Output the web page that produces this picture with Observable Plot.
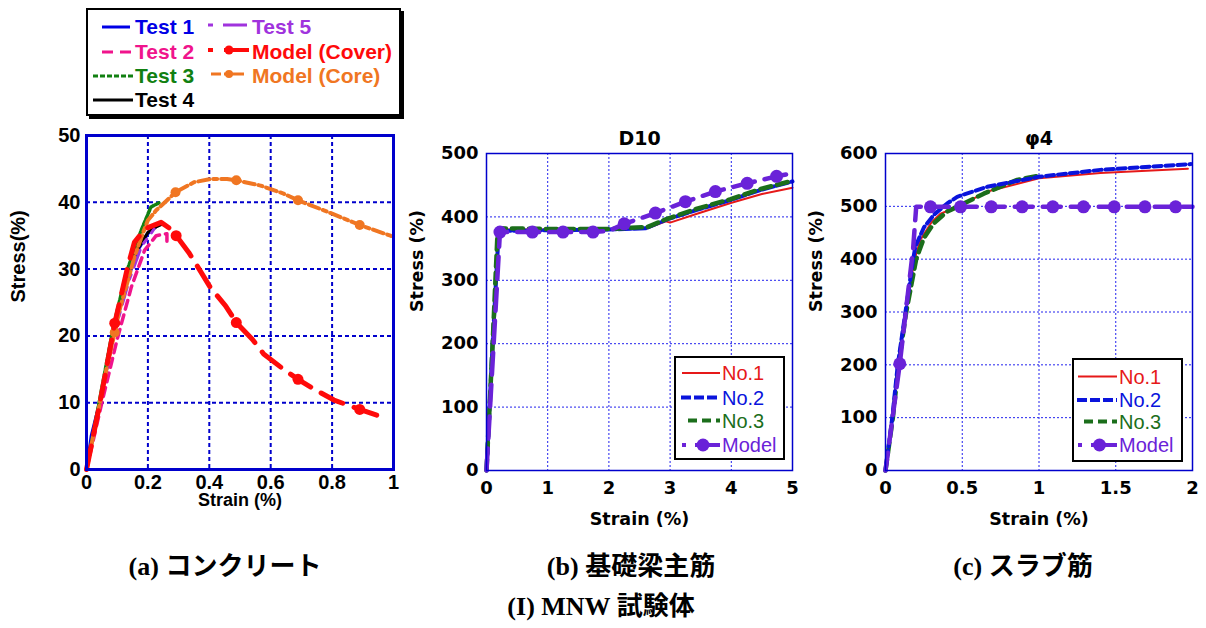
<!DOCTYPE html>
<html><head><meta charset="utf-8">
<script src="https://cdn.jsdelivr.net/npm/d3@7"></script>
<script src="https://cdn.jsdelivr.net/npm/@observablehq/plot@0.6"></script>
<style>
body{margin:0;background:#fff;}
#root{position:relative;width:1206px;height:628px;overflow:hidden;background:#fff;}
.lbl{position:absolute;white-space:nowrap;line-height:1;transform:translateY(-50%);}
.cap{position:absolute;white-space:nowrap;line-height:1;transform:translate(-50%,-50%);font-family:"Liberation Serif","Noto Sans CJK JP",serif;font-weight:bold;font-size:26px;color:#000;}
</style></head><body><div id="root"></div>
<script>
// ---------- Data: panel (a) concrete ----------
const ticksAx = [0, 0.2, 0.4, 0.6, 0.8, 1];
const ticksAy = [0, 10, 20, 30, 40, 50];
const test1 = [[0,0],[0.015,5],[0.045,10.5],[0.09,20.5],[0.13,28],[0.17,33],[0.2,35.3],[0.23,36.5]];
const test2 = [[0,0],[0.02,4],[0.05,10],[0.1,19.5],[0.146,27.3],[0.189,32.8],[0.227,35],[0.262,35.3],[0.262,34]];
const test3 = [[0,0],[0.045,11],[0.088,21.5],[0.13,29.5],[0.178,35.8],[0.21,39.3],[0.24,40]];
const test4 = [[0,0],[0.045,10.5],[0.09,20.5],[0.118,26.8],[0.16,32.5],[0.2,35.5],[0.227,36.3],[0.25,36.8]];
const test5 = [[0,0],[0.045,10.3],[0.09,20.3],[0.14,28.5],[0.18,33.5],[0.205,35],[0.22,36]];
const modelCover = [[0,0],[0.046,10.5],[0.092,21.9],[0.134,30.3],[0.156,34],[0.178,35.3],[0.2,36.2],[0.243,37],[0.28,35.8],[0.292,35],[0.333,32.5],[0.371,29.7],[0.404,27.2],[0.453,24.5],[0.488,22],[0.54,19.5],[0.577,17.3],[0.642,15],[0.689,13.5],[0.75,11.8],[0.806,10.4],[0.89,9],[0.979,7.6]];
const modelCoverMarks = [[0.092,21.9],[0.292,35],[0.488,22],[0.689,13.5],[0.89,9]];
const modelCore = [[0,0],[0.035,8],[0.067,15.5],[0.092,20.5],[0.107,23.8],[0.135,28.3],[0.156,31.8],[0.183,35.3],[0.2,37.3],[0.227,38.8],[0.26,40.2],[0.29,41.5],[0.35,43],[0.404,43.5],[0.458,43.5],[0.488,43.3],[0.567,42.5],[0.642,41.3],[0.689,40.3],[0.773,38.8],[0.89,36.6],[0.99,35],[1.0,34.8]];
const modelCoreMarks = [[0.092,20.5],[0.29,41.5],[0.488,43.3],[0.689,40.3],[0.89,36.6]];

// ---------- Data: panel (b) D10 ----------
const ticksBx = [0, 1, 2, 3, 4, 5];
const ticksBy = [0, 100, 200, 300, 400, 500];
const d10No1 = [[0,0],[0.1,200],[0.2,375],[0.25,380],[1,380],[2,381],[2.63,382],[2.93,393],[3.0,391],[3.44,405],[3.99,422],[4.5,436],[5,446]];
const d10No2 = [[0,0],[0.1,200],[0.2,378],[1,379],[2,380],[2.6,382],[2.95,396],[3.44,411],[4,427],[4.5,443],[5,456]];
const d10No3 = [[0,0],[0.1,200],[0.18,375],[0.22,382],[1,381],[2,381],[2.63,384],[2.95,397],[3.44,413],[3.99,428],[4.48,444],[5,457]];
const d10Model = [[0,0],[0.22,376],[0.75,376],[1.25,376],[1.74,376],[2.0,378],[2.25,389],[2.76,406],[3.25,424],[3.74,440],[4.26,453],[4.74,464],[5,469]];
const d10ModelMarks = [[0.22,376],[0.75,376],[1.25,376],[1.74,376],[2.25,389],[2.76,406],[3.25,424],[3.74,440],[4.26,453],[4.74,464]];

// ---------- Data: panel (c) phi4 ----------
const ticksCx = [0, 0.5, 1, 1.5, 2];
const ticksCy = [0, 100, 200, 300, 400, 500, 600];
const phiNo1 = [[0,0],[0.044,100],[0.08,200],[0.13,300],[0.19,400],[0.228,437],[0.3,470],[0.358,486],[0.467,499],[0.663,528],[1.0,553],[1.4,563],[1.97,571]];
const phiNo2 = [[0,0],[0.044,100],[0.08,200],[0.13,300],[0.18,400],[0.195,424],[0.25,460],[0.315,484],[0.4,505],[0.467,518],[0.663,537],[1.0,556],[1.4,569],[1.99,580]];
const phiNo3 = [[0,0],[0.048,100],[0.085,200],[0.135,300],[0.2,400],[0.25,440],[0.315,468],[0.4,490],[0.467,499],[0.64,524],[0.858,550],[1.0,558]];
const phiModel = [[0,0],[0.093,202],[0.18,420],[0.2,499],[2,499]];
const phiModelMarks = [[0.093,202],[0.293,499],[0.489,499],[0.689,499],[0.89,499],[1.09,499],[1.29,499],[1.49,499],[1.69,499],[1.89,499]];

// ---------- Colours ----------
const C = {
  blue:"#0000e6", pink:"#f0148c", green:"#118011", black:"#000000", purple:"#a033dd",
  red:"#ff0a0a", orange:"#f07622", frame:"#0000cc",
  n1:"#e61919", n2:"#0a14dc", n3:"#1b6e1b", model:"#6a22d8"
};

const root = document.getElementById("root");
const place = (node, left, top) => { node.style.position = "absolute"; node.style.left = left + "px"; node.style.top = top + "px"; root.appendChild(node); return node; };
const ln = (data, stroke, w, dash) => Plot.line(data, {x: d => d[0], y: d => d[1], stroke, strokeWidth: w, strokeDasharray: dash, strokeLinejoin: "round"});
const dots = (data, fill, r) => Plot.dot(data, {x: d => d[0], y: d => d[1], fill, r, stroke: "none"});

// ---------- Panel (a) ----------
const pa = Plot.plot({
  width: 410, height: 410, marginLeft: 86, marginRight: 17, marginTop: 15, marginBottom: 61,
  x: {domain: [0, 1]}, y: {domain: [0, 50]},
  style: {fontFamily: "Liberation Sans, Arial, sans-serif", fontSize: "20px", fontWeight: "bold", color: "#000", background: "transparent", overflow: "visible"},
  marks: [
    Plot.gridX({ticks: ticksAx, stroke: C.frame, strokeOpacity: 1, strokeWidth: 2, strokeDasharray: "4,3"}),
    Plot.gridY({ticks: ticksAy, stroke: C.frame, strokeOpacity: 1, strokeWidth: 2, strokeDasharray: "4,3"}),
    Plot.axisX({ticks: ticksAx, tickSize: 0, tickPadding: 5, tickFormat: d => String(d), label: null}),
    Plot.axisY({ticks: ticksAy, tickSize: 0, tickPadding: 6, tickFormat: d => String(d), label: null}),
    ln(test1, C.blue, 3),
    ln(test4, C.black, 3),
    ln(test5, C.purple, 3, "5,8,18,8"),
    ln(test2, C.pink, 3.5, "9,6"),
    ln(test3, C.green, 3.5, "4,2"),
    ln(modelCore, C.orange, 4, "11,4,4,4"),
    dots(modelCoreMarks, C.orange, 5),
    ln(modelCover, C.red, 5, "24,12"),
    dots(modelCoverMarks, C.red, 5.5),
    Plot.frame({stroke: C.frame, strokeWidth: 3}),
    Plot.text(["Stress(%)"], {frameAnchor: "left", lineAnchor: "middle", rotate: -90, dx: -68, fontSize: 20, fontWeight: "bold", fill: "#000"}),
    Plot.text(["Strain (%)"], {frameAnchor: "bottom", lineAnchor: "middle", dy: 31, fontSize: 18, fontWeight: "bold", fill: "#000"})
  ]
});
place(pa, 0, 120);

// ---------- Panels (b) and (c) ----------
function steelPanel(o) {
  return Plot.plot({
    width: o.width, height: 420, marginLeft: o.ml, marginRight: o.mr, marginTop: 33, marginBottom: 70,
    x: {domain: o.xd}, y: {domain: o.yd},
    style: {fontFamily: "DejaVu Sans, sans-serif", fontSize: "18px", fontWeight: "bold", color: "#000", background: "transparent", overflow: "visible"},
    marks: [
      Plot.gridX({ticks: o.tx, stroke: "#2222ee", strokeOpacity: 1, strokeWidth: 1, strokeDasharray: "2,2"}),
      Plot.gridY({ticks: o.ty, stroke: "#2222ee", strokeOpacity: 1, strokeWidth: 1, strokeDasharray: "2,2"}),
      Plot.axisX({ticks: o.tx, tickSize: 0, tickPadding: 11, tickFormat: d => String(d), label: null}),
      Plot.axisY({ticks: o.ty, tickSize: 0, tickPadding: 8, tickFormat: d => String(d), label: null}),
      ...o.marks,
      Plot.frame({stroke: C.frame, strokeWidth: 1.5}),
      Plot.text([o.title], {frameAnchor: "top", lineAnchor: "middle", dy: -15, fontSize: 19, fontWeight: "bold", fill: "#000"}),
      Plot.text(["Stress (%)"], {frameAnchor: "left", lineAnchor: "middle", rotate: -90, dx: -69, fontSize: 17.5, fontWeight: "bold", fill: "#000"}),
      Plot.text(["Strain (%)"], {frameAnchor: "bottom", lineAnchor: "middle", dy: 49, fontSize: 17.5, fontWeight: "bold", fill: "#000"})
    ]
  });
}
const pb = steelPanel({
  width: 400, ml: 86, mr: 8, xd: [0, 5], yd: [0, 500], tx: ticksBx, ty: ticksBy, title: "D10",
  marks: [
    ln(d10No1, C.n1, 2),
    ln(d10No2, C.n2, 4, "12,3"),
    ln(d10No3, C.n3, 4.5, "11,6"),
    ln(d10Model, C.model, 4.5, "22,10"),
    dots(d10ModelMarks, C.model, 6.5)
  ]
});
place(pb, 400, 120);

const pc = steelPanel({
  width: 406, ml: 85, mr: 14, xd: [0, 2], yd: [0, 600], tx: ticksCx, ty: ticksCy, title: "φ4",
  marks: [
    ln(phiNo1, C.n1, 2),
    ln(phiNo3, C.n3, 4.5, "11,6"),
    ln(phiNo2, C.n2, 4, "8,4"),
    ln(phiModel, C.model, 4.5, "18,10"),
    dots(phiModelMarks, C.model, 6.5)
  ]
});
place(pc, 800, 120);

// ---------- Legends ----------
function box(left, top, w, h, shadow) {
  const d = document.createElement("div");
  d.style.cssText = `width:${w}px;height:${h}px;border:2px solid #000;background:#fff;box-sizing:border-box;` + (shadow ? "box-shadow:3px 3px 0 #000;" : "");
  return place(d, left, top);
}
function label(x, y, txt, color, font) {
  const s = document.createElement("span");
  s.className = "lbl"; s.textContent = txt; s.style.color = color; s.style.font = font;
  return place(s, x, y);
}
box(86, 8, 315, 108, true);
box(674, 356, 111, 104, false);
box(1072, 358, 111, 104, false);

const ov = d3.create("svg").attr("width", 1206).attr("height", 628).style("pointer-events", "none");
place(ov.node(), 0, 0);
const seg = (x1, x2, y, color, w, dash) => ov.append("line").attr("x1", x1).attr("x2", x2).attr("y1", y).attr("y2", y)
  .attr("stroke", color).attr("stroke-width", w).attr("stroke-dasharray", dash || null);
const mk = (x, y, r, color) => ov.append("circle").attr("cx", x).attr("cy", y).attr("r", r).attr("fill", color);

// legend (a)
const fA = "bold 21px 'Liberation Sans', Arial, sans-serif";
const legA = [
  {t: "Test 1", c: C.blue, x: 135, y: 27},
  {t: "Test 2", c: C.pink, x: 135, y: 52},
  {t: "Test 3", c: C.green, x: 135, y: 76},
  {t: "Test 4", c: C.black, x: 135, y: 100},
  {t: "Test 5", c: C.purple, x: 252, y: 27},
  {t: "Model (Cover)", c: C.red, x: 252, y: 52},
  {t: "Model (Core)", c: C.orange, x: 252, y: 76}
];
seg(102, 130, 27, C.blue, 3);
seg(102, 131, 52, C.pink, 3, "11,7");
seg(93, 133, 76, C.green, 3, "5,2");
seg(93, 133, 100, C.black, 3);
seg(208, 247, 25, C.purple, 3, "5,10,30");
seg(208, 249, 50, C.red, 4, "5,11,30"); mk(229, 50, 4.5, C.red);
seg(211, 244, 74, C.orange, 3, "10,3,30"); mk(229, 74, 4, C.orange);
legA.forEach(d => label(d.x, d.y, d.t, d.c, fA));

// legends (b), (c)
const fB = "20px 'Liberation Sans', Arial, sans-serif";
function steelLegend(x0, x1, tx, ys) {
  seg(x0, x1, ys[0], C.n1, 2);
  seg(x0 - 1, x1, ys[1], C.n2, 4, "10,3");
  seg(x0 + 6, x1, ys[2], C.n3, 4, "9,5");
  seg(x0, x1, ys[3], C.model, 4, "4,9,40"); mk((x0 + x1) / 2 + 2, ys[3], 6.5, C.model);
  label(tx, ys[0], "No.1", C.n1, fB);
  label(tx, ys[1], "No.2", C.n2, fB);
  label(tx, ys[2], "No.3", C.n3, fB);
  label(tx, ys[3], "Model", C.model, fB);
}
steelLegend(682, 720, 722, [373, 397.5, 420.5, 445]);
steelLegend(1078, 1117, 1119, [376.5, 400, 421.5, 445]);

// ---------- Captions ----------
function cap(x, y, txt) {
  const s = document.createElement("span");
  s.className = "cap"; s.textContent = txt;
  return place(s, x, y);
}
cap(225, 567, "(a)  コンクリート");
cap(631, 567, "(b)  基礎梁主筋");
cap(1023, 567, "(c)  スラブ筋");
cap(601, 607, "(I) MNW 試験体");
</script></body></html>
